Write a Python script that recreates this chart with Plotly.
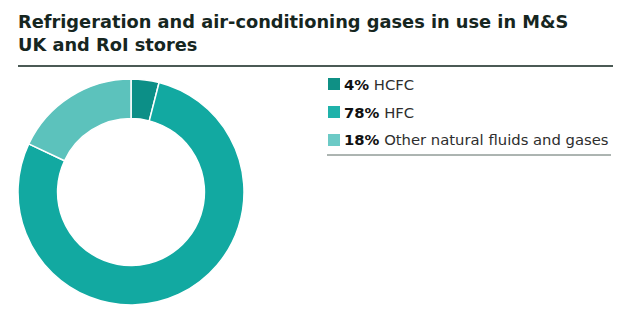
import plotly.graph_objects as go

labels = ["HCFC", "HFC", "Other natural fluids and gases"]
values = [4, 78, 18]
colors = ["#0c8f87", "#12a9a1", "#5cc2bc"]
legend_colors = ["#0f9085", "#1fb2aa", "#6ccac6"]
title_lines = ["Refrigeration and air-conditioning gases in use in M&S", "UK and RoI stores"]

W, H = 627, 324

def px(x):
    return x / W

def py(y):
    return 1 - y / H

cx, cy, r = 131, 192, 113

fig = go.Figure()
fig.add_trace(go.Pie(
    labels=labels,
    values=values,
    hole=0.65,
    sort=False,
    direction="clockwise",
    rotation=0,
    textinfo="none",
    hoverinfo="label+percent",
    marker=dict(colors=colors, line=dict(color="white", width=1.5)),
    domain=dict(x=[px(cx - r), px(cx + r)], y=[py(cy + r), py(cy - r)]),
    showlegend=False,
))

shapes = [
    dict(type="line", xref="paper", yref="paper", x0=px(18), x1=px(613), y0=py(66), y1=py(66),
         line=dict(color="#4b5a55", width=2)),
    dict(type="line", xref="paper", yref="paper", x0=px(327), x1=px(611), y0=py(155), y1=py(155),
         line=dict(color="#5a6a65", width=1)),
]
annotations = [
    dict(text="<br>".join(f"<b>{t}</b>" for t in title_lines), xref="paper", yref="paper",
         x=px(16), y=py(9),
         xanchor="left", yanchor="top", align="left", showarrow=False,
         font=dict(family="DejaVu Sans", size=17.8, color="#16261f")),
]
row_y = [84, 112, 140]
total = sum(values)
for i, (lab, val) in enumerate(zip(labels, values)):
    yc = row_y[i]
    shapes.append(dict(type="rect", xref="paper", yref="paper",
                       x0=px(328), x1=px(340), y0=py(yc + 6), y1=py(yc - 6),
                       fillcolor=legend_colors[i], line=dict(width=0)))
    pct = round(100 * val / total)
    annotations.append(dict(text=f"<b><span style='color:#111111'>{pct}%</span></b> {lab}",
                            xref="paper", yref="paper",
                            x=px(342), y=py(yc), xanchor="left", yanchor="middle",
                            showarrow=False,
                            font=dict(family="DejaVu Sans", size=14.8, color="#2e2e2e")))

fig.update_layout(
    width=W, height=H,
    margin=dict(l=0, r=0, t=0, b=0),
    paper_bgcolor="white", plot_bgcolor="white",
    shapes=shapes, annotations=annotations,
)
fig.write_html("out.html")
